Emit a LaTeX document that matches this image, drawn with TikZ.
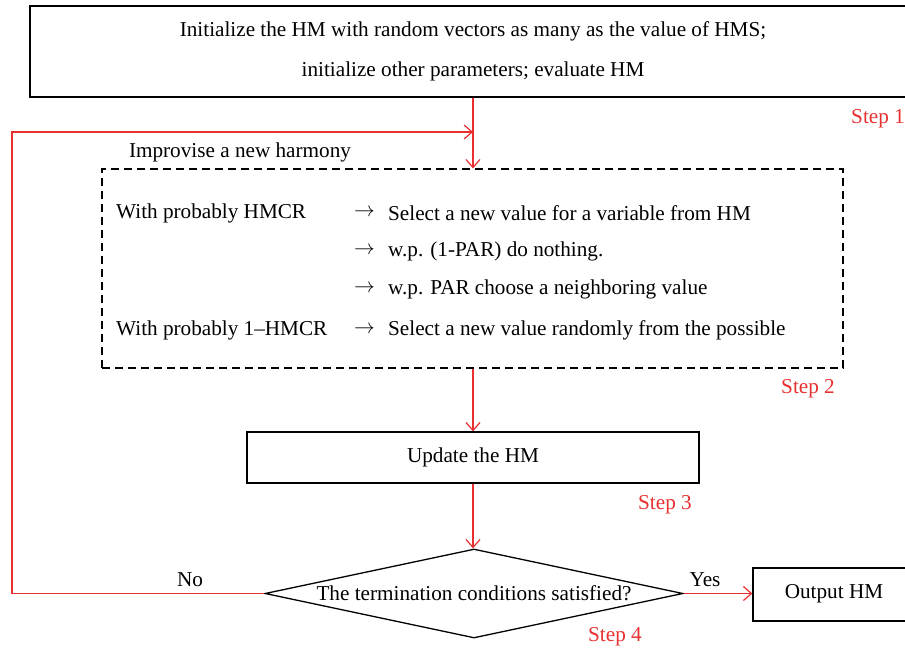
\documentclass[tikz,border=0pt]{standalone}
\usepackage{fontspec}
\setmainfont{Liberation Serif}
\usetikzlibrary{arrows.meta,shapes.geometric}
\definecolor{flowred}{RGB}{232,48,48}
\begin{document}
\begin{tikzpicture}[x=1pt,y=-1pt,
  box/.style={draw=black,line width=1.3pt,rectangle,inner sep=0pt},
  dbox/.style={draw=black,line width=1.2pt,dash pattern=on 8pt off 5pt,rectangle,inner sep=0pt},
  flow/.style={draw=flowred,line width=1.2pt,-{Straight Barb[length=8pt,width=14pt,line width=1.2pt]}},
  txt/.style={font=\fontsize{21.2}{25}\selectfont,inner sep=0pt},
  steplbl/.style={txt,text=flowred},
]
\useasboundingbox (0,0) rectangle (905,650);
\clip (0,0) rectangle (905,650);

% boxes
\node[box,minimum width=880pt,minimum height=91pt] (init) at (470,51.5) {};
\node[txt] (initA) at (473,31) {Initialize the HM with random vectors as many as the value of HMS;};
\node[txt] (initB) at (473,71) {initialize other parameters; evaluate HM};

\node[dbox,minimum width=741pt,minimum height=199pt] (imp) at (472.5,268.5) {};
\node[txt] (impT) at (240,152) {Improvise a new harmony};

\node[txt,anchor=west] (r1a) at (116,213) {With probably HMCR};
\node[txt,anchor=west] (r1b) at (354,213) {$\rightarrow$};
\node[txt,anchor=west] (r1c) at (388,213) {Select a new value for a variable from HM};
\node[txt,anchor=west] (r2b) at (354,251) {$\rightarrow$};
\node[txt,anchor=west] (r2c) at (388,251) {w.p. (1-PAR) do nothing.};
\node[txt,anchor=west] (r3b) at (354,289) {$\rightarrow$};
\node[txt,anchor=west] (r3c) at (388,289) {w.p. PAR choose a neighboring value};
\node[txt,anchor=west] (r4a) at (116,330) {With probably 1--HMCR};
\node[txt,anchor=west] (r4b) at (354,330) {$\rightarrow$};
\node[txt,anchor=west] (r4c) at (388,330) {Select a new value randomly from the possible};

\node[box,minimum width=452pt,minimum height=51pt,txt] (upd) at (473,457.5) {Update the HM};

\node[draw=black,line width=1.3pt,diamond,minimum width=418pt,minimum height=89pt,inner sep=0pt] (dia) at (474,593.5) {};
\node[txt] (diaT) at (474,593) {The termination conditions satisfied?};

\node[box,minimum width=154pt,minimum height=53pt] (out) at (830,594.5) {};
\node[txt] (outT) at (834,594) {Output HM};

% labels
\node[steplbl] (s1) at (878,119) {Step 1};
\node[steplbl] (s2) at (808,389) {Step 2};
\node[steplbl] (s3) at (665,505) {Step 3};
\node[steplbl] (s4) at (615,637) {Step 4};
\node[txt] (no) at (190,580) {No};
\node[txt] (yes) at (705,580) {Yes};

% connectors
\coordinate (loopA) at (12,132);
\draw[flow] (init.south -| upd.north) -- (imp.north -| upd.north);
\draw[flow] (dia.west) -- (dia.west -| loopA) -- (loopA) -- (loopA -| upd.north);
\draw[flow] (imp.south -| upd.north) -- (upd.north);
\draw[flow] (upd.south) -- (dia.north -| upd.south);
\draw[flow] (dia.east) -- (out.west |- dia.east);
\end{tikzpicture}
\end{document}
